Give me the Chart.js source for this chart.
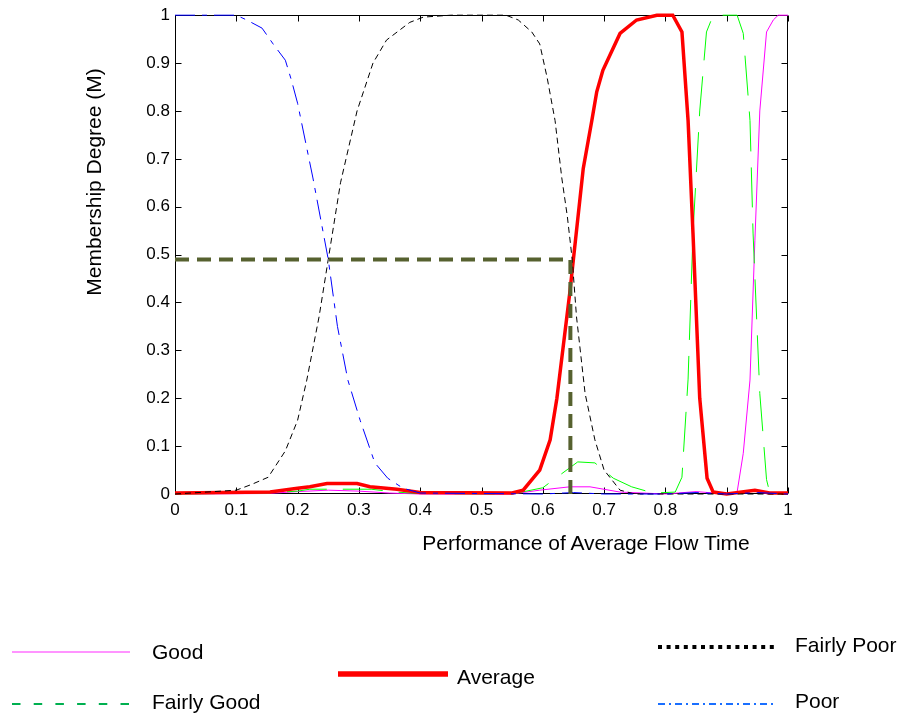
<!DOCTYPE html>
<html>
<head>
<meta charset="utf-8">
<script src="https://cdn.jsdelivr.net/npm/chart.js@4.4.1/dist/chart.umd.min.js"></script>
<style>
html,body{margin:0;padding:0;background:#fff;}
#wrap{position:relative;width:902px;height:715px;overflow:hidden;font-family:Arial,"Liberation Sans",sans-serif;color:#000;}
#c{position:absolute;left:0;top:0;}
#leg{position:absolute;left:0;top:0;}
.t{position:absolute;font-size:21px;line-height:21px;white-space:nowrap;}
</style>
</head>
<body>
<div id="wrap">
<canvas id="c" width="902" height="715"></canvas>
<svg id="leg" width="902" height="715">
  <line x1="12" y1="652" x2="130" y2="652" stroke="#ff70ff" stroke-width="1.5"/>
  <line x1="12" y1="704" x2="130" y2="704" stroke="#00b050" stroke-width="2" stroke-dasharray="8.5 13.2"/>
  <line x1="338" y1="674" x2="448" y2="674" stroke="#ff0000" stroke-width="5.5"/>
  <line x1="658" y1="647" x2="775" y2="647" stroke="#000000" stroke-width="4" stroke-dasharray="4 4.6"/>
  <line x1="658" y1="704" x2="775" y2="704" stroke="#1a6fff" stroke-width="2" stroke-dasharray="7 4 2 4"/>
</svg>
<div class="t" style="left:586px;top:542px;transform:translate(-50%,-50%);">Performance of Average Flow Time</div>
<div class="t" style="left:93px;top:182px;transform:translate(-50%,-50%) rotate(-90deg);">Membership Degree (M)</div>
<div class="t" style="left:152px;top:651px;transform:translateY(-50%);">Good</div>
<div class="t" style="left:152px;top:701px;transform:translateY(-50%);">Fairly Good</div>
<div class="t" style="left:457px;top:676px;transform:translateY(-50%);">Average</div>
<div class="t" style="left:795px;top:644px;transform:translateY(-50%);">Fairly Poor</div>
<div class="t" style="left:795px;top:700px;transform:translateY(-50%);">Poor</div>
</div>
<script>
// ---- data ----
const xTicks = [0, 0.1, 0.2, 0.3, 0.4, 0.5, 0.6, 0.7, 0.8, 0.9, 1];
const yTicks = [0, 0.1, 0.2, 0.3, 0.4, 0.5, 0.6, 0.7, 0.8, 0.9, 1];

const goodX = [0, 0.15, 0.2, 0.25, 0.3, 0.35, 0.4, 0.55, 0.595, 0.644, 0.677, 0.726, 0.8, 0.85, 0.9, 0.917, 0.927, 0.938, 0.946, 0.954, 0.965, 0.976, 0.984, 1];
const goodY = [0, 0.001, 0.005, 0.008, 0.006, 0.002, 0, 0, 0.008, 0.015, 0.015, 0.004, 0, 0.005, 0, 0.004, 0.085, 0.238, 0.53, 0.8, 0.965, 0.99, 1, 1];

const fairlyGoodX = [0, 0.15, 0.2, 0.22, 0.32, 0.36, 0.4, 0.55, 0.6, 0.623, 0.657, 0.685, 0.715, 0.745, 0.78, 0.816, 0.827, 0.837, 0.845, 0.856, 0.867, 0.878, 0.917, 0.927, 0.938, 0.943, 0.954, 0.965, 0.97, 1];
const fairlyGoodY = [0, 0.002, 0.006, 0.01, 0.01, 0.004, 0.001, 0, 0.013, 0.035, 0.067, 0.065, 0.033, 0.015, 0.002, 0.004, 0.035, 0.24, 0.545, 0.8, 0.965, 1, 1, 0.962, 0.78, 0.545, 0.21, 0.03, 0.004, 0];

const averageX = [0, 0.155, 0.2, 0.22, 0.248, 0.297, 0.318, 0.362, 0.4, 0.55, 0.568, 0.595, 0.612, 0.623, 0.644, 0.666, 0.68, 0.688, 0.698, 0.726, 0.753, 0.786, 0.812, 0.827, 0.837, 0.845, 0.856, 0.868, 0.878, 0.9, 0.946, 0.97, 1];
const averageY = [0.002, 0.004, 0.012, 0.015, 0.022, 0.022, 0.015, 0.01, 0.003, 0.002, 0.008, 0.05, 0.113, 0.2, 0.42, 0.68, 0.78, 0.84, 0.885, 0.962, 0.99, 1, 1, 0.965, 0.78, 0.545, 0.2, 0.033, 0.004, 0, 0.008, 0.002, 0.002];

const fairlyPoorX = [0, 0.1, 0.125, 0.152, 0.18, 0.2, 0.215, 0.235, 0.25, 0.27, 0.297, 0.323, 0.345, 0.383, 0.405, 0.45, 0.54, 0.56, 0.582, 0.595, 0.607, 0.62, 0.631, 0.64, 0.648, 0.655, 0.669, 0.685, 0.7, 0.726, 0.75, 1];
const fairlyPoorY = [0, 0.008, 0.02, 0.035, 0.09, 0.154, 0.238, 0.37, 0.49, 0.65, 0.8, 0.9, 0.948, 0.985, 0.996, 1, 1, 0.99, 0.965, 0.94, 0.87, 0.78, 0.66, 0.58, 0.49, 0.37, 0.21, 0.113, 0.05, 0.008, 0, 0];

const poorX = [0, 0.1, 0.117, 0.142, 0.16, 0.18, 0.19, 0.2, 0.225, 0.25, 0.265, 0.282, 0.302, 0.326, 0.347, 0.372, 0.4, 0.6, 0.65, 0.7, 0.8, 0.85, 0.9, 0.95, 1];
const poorY = [1, 1, 0.99, 0.973, 0.94, 0.906, 0.864, 0.816, 0.66, 0.49, 0.35, 0.238, 0.154, 0.065, 0.033, 0.012, 0.002, 0, 0.003, 0, 0, 0.003, 0, 0.003, 0];

const guideX = [0, 0.645, 0.645];
const guideY = [0.49, 0.49, 0];

const pts = (xs, ys) => xs.map((x, i) => ({x: x, y: ys[i]}));

const axesBox = {
  id: 'axesBox',
  beforeDatasetsDraw(chart) {
    const {ctx, chartArea: a, scales: {x, y}} = chart;
    ctx.save();
    ctx.strokeStyle = '#000';
    ctx.lineWidth = 1;
    const L = Math.round(a.left) + 0.5, R = Math.round(a.right) - 0.5;
    const T = Math.round(a.top) + 0.5, B = Math.round(a.bottom) - 0.5;
    ctx.strokeRect(L, T, R - L, B - T);
    const tl = 6;
    ctx.beginPath();
    xTicks.forEach(v => {
      const px = Math.round(x.getPixelForValue(v)) + 0.5;
      ctx.moveTo(px, B); ctx.lineTo(px, B - tl);
      ctx.moveTo(px, T); ctx.lineTo(px, T + tl);
    });
    yTicks.forEach(v => {
      const py = Math.round(y.getPixelForValue(v)) + 0.5;
      ctx.moveTo(L, py); ctx.lineTo(L + tl, py);
      ctx.moveTo(R, py); ctx.lineTo(R - tl, py);
    });
    ctx.stroke();
    ctx.restore();
  }
};

const lineDs = (label, xs, ys, color, width, dash, order) => ({
  label: label,
  data: pts(xs, ys),
  borderColor: color,
  borderWidth: width,
  borderDash: dash,
  pointRadius: 0,
  tension: 0,
  fill: false,
  clip: 3,
  order: order
});

new Chart(document.getElementById('c'), {
  type: 'line',
  data: {
    datasets: [
      lineDs('Guide', guideX, guideY, '#56612f', 4, [14, 8], 0),
      lineDs('Poor', poorX, poorY, '#0000ff', 1, [20, 7, 5, 7], 1),
      lineDs('Fairly Poor', fairlyPoorX, fairlyPoorY, '#000000', 1, [6, 4], 2),
      lineDs('Average', averageX, averageY, '#ff0000', 3.5, [], 3),
      lineDs('Fairly Good', fairlyGoodX, fairlyGoodY, '#00ff00', 1, [40, 16], 4),
      lineDs('Good', goodX, goodY, '#ff00ff', 1, [], 5)
    ]
  },
  options: {
    responsive: false,
    animation: false,
    devicePixelRatio: 1,
    layout: {padding: {left: 0, top: 15, right: 114, bottom: 0}},
    plugins: {legend: {display: false}, tooltip: {enabled: false}, title: {display: false}},
    scales: {
      x: {
        type: 'linear', min: 0, max: 1,
        grid: {display: false, drawTicks: false},
        border: {display: false},
        afterBuildTicks: s => { s.ticks = xTicks.map(v => ({value: v})); },
        ticks: {padding: 6, color: '#000', font: {family: 'Arial, "Liberation Sans", sans-serif', size: 17}, maxRotation: 0, autoSkip: false,
          callback: v => String(+v.toFixed(1))},
        afterFit: s => { s.height = 221; }
      },
      y: {
        type: 'linear', min: 0, max: 1,
        grid: {display: false, drawTicks: false},
        border: {display: false},
        afterBuildTicks: s => { s.ticks = yTicks.map(v => ({value: v})); },
        ticks: {padding: 5, color: '#000', font: {family: 'Arial, "Liberation Sans", sans-serif', size: 17}, autoSkip: false,
          callback: v => String(+v.toFixed(1))},
        afterFit: s => { s.width = 175; }
      }
    }
  },
  plugins: [axesBox]
});
</script>
</body>
</html>
